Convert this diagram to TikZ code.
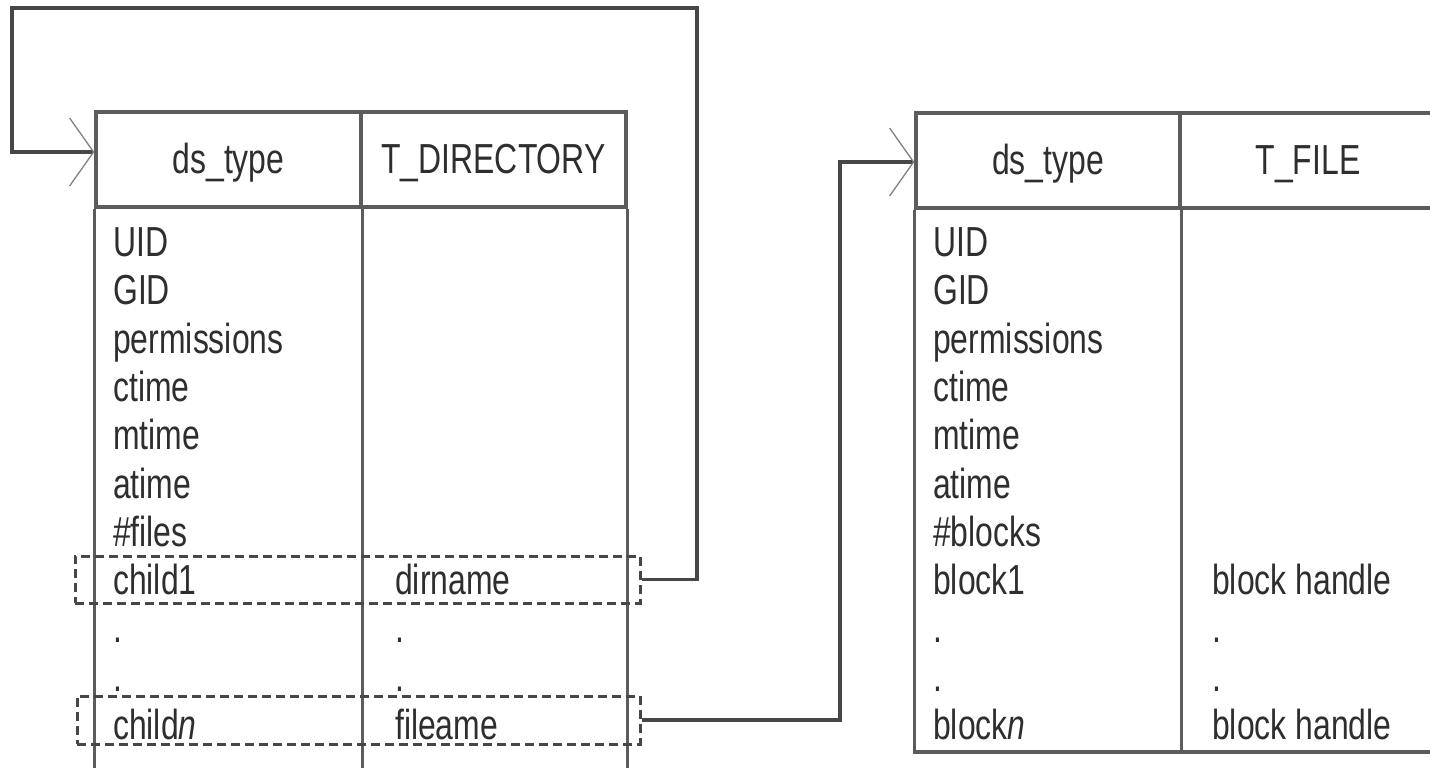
\documentclass[tikz,border=0pt]{standalone}
\usepackage{fontspec}
\setmainfont{Liberation Sans}[FakeStretch=0.76]
\usetikzlibrary{arrows.meta}

\definecolor{rule}{gray}{0.36}
\definecolor{wire}{gray}{0.28}
\definecolor{ink}{gray}{0.18}
\definecolor{barb}{gray}{0.50}

\begin{document}
\begin{tikzpicture}[x=1pt,y=-1pt,
  tab/.style={draw=rule, line width=3.2pt},
  hcell/.style={tab, rectangle, inner sep=0pt, minimum height=95pt,
    text height=27pt, text depth=0pt, text=ink,
    font=\fontsize{42}{48}\selectfont},
  fld/.style={anchor=base west, inner sep=0pt, text=ink,
    font=\fontsize{42}{48}\selectfont},
  sel/.style={draw=wire, line width=3pt, dash pattern=on 9pt off 5pt,
    rectangle, inner sep=0pt},
  link/.style={draw=wire, line width=3.6pt,
    -{Straight Barb[length=24pt, width=68pt, line width=1.3pt, color=barb]}},
]
\useasboundingbox (0,0) rectangle (1430,768);

% directory record: header cells
\node[hcell, minimum width=265pt] (lA) at (228.5,159.5) {ds\_type};
\node[hcell, minimum width=265pt] (lB) at (493.5,159.5) {T\_DIRECTORY};
% directory record: body (runs off the bottom)
\coordinate (lbot) at (0,772);
\draw[tab] (lA.south west) -- (lA.south west |- lbot);
\draw[tab] (lA.south east) -- (lA.south east |- lbot);
\draw[tab] (lB.south east) -- (lB.south east |- lbot);

% file record: header cells
\node[hcell, minimum width=264pt] (rA) at (1048,160.5) {ds\_type};
\node[hcell, minimum width=256pt] (rB) at (1308,160.5) {T\_FILE};
% file record: body
\coordinate (rbot) at (0,752);
\draw[tab] (rA.south west) -- (rA.south west |- rbot) -- (rB.south east |- rbot);
\draw[tab] (rA.south east) -- (rA.south east |- rbot);

% directory fields
\foreach \t [count=\i from 0] in {UID,GID,permissions,ctime,mtime,atime,\#files,child1,.,.,child\textit{n}}
  \node[fld] (lf\i) at (113,{256.5+48.3*\i}) {\t};
\node[fld] (lv7) at (395,{256.5+48.3*7}) {dirname};
\node[fld] (lv8) at (395,{256.5+48.3*8}) {.};
\node[fld] (lv9) at (395,{256.5+48.3*9}) {.};
\node[fld] (lv10) at (395,{256.5+48.3*10}) {fileame};

% file fields
\foreach \t [count=\i from 0] in {UID,GID,permissions,ctime,mtime,atime,\#blocks,block1,.,.,block\textit{n}}
  \node[fld] (rf\i) at (933,{256.5+48.3*\i}) {\t};
\node[fld] (rv7) at (1212,{256.5+48.3*7}) {block handle};
\node[fld] (rv8) at (1212,{256.5+48.3*8}) {.};
\node[fld] (rv9) at (1212,{256.5+48.3*9}) {.};
\node[fld] (rv10) at (1212,{256.5+48.3*10}) {block handle};

% highlighted child entries
\node[sel, minimum width=565pt, minimum height=47pt] (sel1) at (357.5,579.5) {};
\node[sel, minimum width=563pt, minimum height=48pt] (sel2) at (358.5,720) {};

% links from the child entries to the records they name
\coordinate (hookR) at (697,8);
\coordinate (hookL) at (12,8);
\draw[link] (sel1.east) -| (hookR) -- (hookL) |- ([yshift=7.5pt]lA.west);
\coordinate (riser) at (840,162);
\draw[link] (sel2.east) -| (riser) |- ([yshift=-1.5pt]rA.west);
\end{tikzpicture}
\end{document}
